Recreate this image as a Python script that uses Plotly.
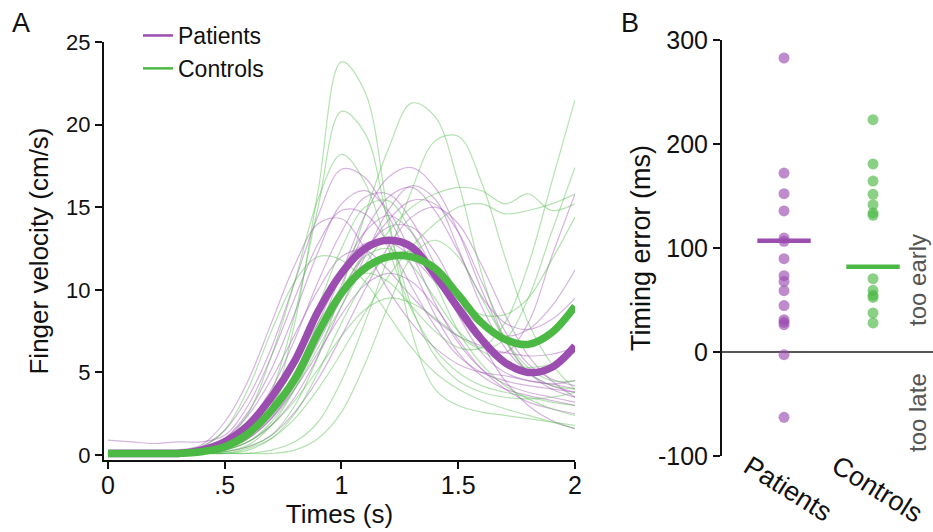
import plotly.graph_objects as go

# ---- Panel A data: finger velocity (cm/s) sampled every 0.1 s ----
TIME = [0.0, 0.1, 0.2, 0.3, 0.4, 0.5, 0.6, 0.7, 0.8, 0.9, 1.0,
        1.1, 1.2, 1.3, 1.4, 1.5, 1.6, 1.7, 1.8, 1.9, 2.0]

PATIENTS_MEAN = [0.1, 0.1, 0.1, 0.1, 0.3, 0.8, 1.8, 3.5, 5.7, 8.7, 11.0,
                 12.5, 13.0, 12.6, 10.9, 8.9, 7.0, 5.6, 5.0, 5.3, 6.6]
CONTROLS_MEAN = [0.1, 0.1, 0.1, 0.1, 0.2, 0.5, 1.3, 2.7, 4.6, 7.4, 9.8,
                 11.3, 12.0, 12.0, 11.3, 9.7, 8.0, 7.0, 6.7, 7.4, 9.0]

PATIENTS_TRIALS = [
    [0.1, 0.1, 0.1, 0.2, 0.5, 1.5, 3.5, 6.5, 10.5, 14.5, 17.3, 16.8, 14.5, 11.5, 8.5, 6.2, 4.8, 4.0, 3.6, 3.3, 3.0],
    [0.1, 0.1, 0.1, 0.1, 0.2, 0.5, 1.2, 2.5, 4.5, 7.5, 11.0, 14.5, 16.8, 17.4, 16.2, 13.5, 10.0, 7.0, 5.0, 4.0, 3.5],
    [0.9, 0.8, 0.7, 0.8, 0.8, 1.2, 3.0, 6.0, 9.5, 12.8, 14.8, 14.6, 12.8, 10.2, 7.8, 6.0, 5.0, 4.5, 4.2, 4.0, 3.8],
    [0.3, 0.3, 0.3, 0.3, 0.4, 0.8, 2.0, 4.0, 7.0, 10.5, 13.5, 15.6, 15.8, 14.2, 11.5, 8.5, 6.2, 5.0, 4.5, 4.3, 4.0],
    [0.2, 0.2, 0.2, 0.2, 0.3, 0.6, 1.3, 2.8, 5.0, 8.0, 11.0, 13.5, 14.5, 13.5, 11.0, 8.5, 6.8, 6.2, 8.0, 12.0, 15.8],
    [0.1, 0.1, 0.1, 0.1, 0.1, 0.3, 0.8, 1.8, 3.5, 6.0, 9.0, 12.0, 14.8, 16.3, 15.5, 12.5, 9.0, 6.5, 5.0, 4.2, 3.8],
    [0.2, 0.2, 0.2, 0.3, 0.6, 2.0, 4.5, 8.0, 11.5, 14.0, 14.3, 12.5, 10.0, 8.0, 6.5, 5.5, 5.0, 4.8, 4.5, 4.3, 4.5],
    [0.1, 0.1, 0.1, 0.1, 0.2, 0.4, 1.0, 2.2, 4.2, 6.8, 9.5, 12.2, 14.2, 15.4, 15.2, 13.5, 10.5, 7.5, 5.5, 4.6, 4.2],
    [0.1, 0.1, 0.1, 0.1, 0.2, 0.6, 1.6, 3.5, 6.0, 8.8, 11.3, 12.8, 12.9, 12.0, 10.5, 9.0, 7.8, 7.2, 7.6, 9.0, 11.2],
    [0.1, 0.1, 0.1, 0.1, 0.2, 0.4, 1.0, 2.2, 4.0, 6.2, 8.5, 10.3, 11.0, 10.5, 9.0, 7.0, 5.2, 4.0, 3.2, 2.8, 2.5],
    [0.1, 0.1, 0.1, 0.1, 0.3, 1.0, 2.6, 5.2, 8.6, 12.3, 15.2, 16.0, 14.8, 12.2, 9.2, 6.8, 5.2, 4.3, 3.8, 3.5, 3.2],
    [0.1, 0.1, 0.1, 0.1, 0.1, 0.2, 0.5, 1.2, 2.6, 4.6, 7.2, 10.0, 12.6, 14.4, 15.0, 14.0, 11.5, 8.5, 6.0, 4.5, 3.5],
    [0.2, 0.2, 0.2, 0.2, 0.4, 1.0, 2.4, 4.6, 7.3, 10.0, 12.0, 12.4, 11.2, 9.6, 8.2, 7.2, 6.6, 6.2, 6.0, 6.1, 6.5],
    [0.1, 0.1, 0.1, 0.1, 0.2, 0.5, 1.2, 2.5, 4.5, 7.0, 9.8, 12.3, 13.8, 13.8, 12.3, 9.6, 6.8, 4.5, 3.0, 2.1, 1.6],
    [0.1, 0.1, 0.1, 0.1, 0.2, 0.5, 1.1, 2.3, 4.3, 7.0, 10.3, 13.5, 15.6, 16.2, 14.8, 12.3, 9.6, 8.0, 7.6, 8.2, 9.5],
]

CONTROLS_TRIALS = [
    [0.1, 0.1, 0.1, 0.1, 0.1, 0.3, 1.0, 3.0, 8.0, 16.0, 23.8, 22.0, 14.5, 7.5, 4.0, 3.0, 2.6, 2.4, 2.2, 2.0, 1.8],
    [0.1, 0.1, 0.1, 0.1, 0.1, 0.3, 1.2, 3.8, 8.5, 15.0, 20.8, 19.5, 14.0, 9.0, 6.0, 4.5, 3.8, 3.5, 3.4, 3.5, 3.8],
    [0.1, 0.1, 0.1, 0.1, 0.2, 0.8, 2.5, 6.0, 10.5, 15.5, 18.2, 16.5, 12.5, 8.8, 6.4, 5.0, 4.2, 3.8, 3.5, 3.2, 3.0],
    [0.1, 0.1, 0.1, 0.1, 0.1, 0.2, 0.5, 1.2, 3.0, 6.0, 10.0, 14.5, 18.5, 21.3, 20.5, 16.5, 11.0, 7.0, 5.0, 4.2, 4.0],
    [0.1, 0.1, 0.1, 0.1, 0.1, 0.1, 0.1, 0.3, 0.8, 2.0, 4.5, 8.0, 12.0, 16.0, 19.0, 19.3, 16.5, 12.0, 8.0, 5.5, 4.0],
    [0.1, 0.1, 0.1, 0.1, 0.1, 0.3, 0.8, 2.0, 4.0, 6.5, 9.0, 11.5, 13.5, 15.0, 15.8, 16.2, 16.0, 15.2, 15.8, 14.8, 15.2],
    [0.1, 0.1, 0.1, 0.1, 0.1, 0.1, 0.4, 1.0, 2.2, 4.0, 6.2, 8.6, 10.8, 12.6, 14.0, 15.0, 15.2, 14.6, 14.8, 15.2, 15.8],
    [0.1, 0.1, 0.1, 0.1, 0.1, 0.4, 1.2, 3.0, 5.5, 8.0, 10.0, 11.0, 10.5, 9.0, 7.5, 6.5, 6.5, 8.0, 11.5, 16.5, 21.5],
    [0.1, 0.1, 0.1, 0.1, 0.1, 0.2, 0.6, 1.8, 4.0, 7.0, 10.0, 12.0, 12.5, 11.5, 9.5, 7.5, 6.5, 7.0, 9.5, 13.5, 17.4],
    [0.1, 0.1, 0.1, 0.1, 0.1, 0.1, 0.3, 1.0, 2.5, 5.0, 8.0, 10.5, 12.0, 12.3, 11.2, 9.5, 8.5, 8.5, 9.5, 11.8, 14.4],
    [0.1, 0.1, 0.1, 0.2, 0.5, 1.5, 4.0, 7.5, 10.5, 12.0, 11.8, 10.5, 8.5, 6.5, 5.0, 4.0, 3.3, 2.8, 2.4, 2.0, 1.6],
    [0.1, 0.1, 0.1, 0.1, 0.1, 0.1, 0.1, 0.1, 0.3, 1.0, 2.6, 5.5, 9.0, 12.0, 13.0, 12.0, 9.5, 7.0, 5.3, 4.5, 4.5],
    [0.1, 0.1, 0.1, 0.1, 0.1, 0.3, 0.8, 1.8, 3.3, 5.2, 7.2, 8.8, 9.5, 9.2, 8.3, 7.2, 6.3, 5.6, 5.3, 5.5, 6.2],
    [0.1, 0.1, 0.1, 0.1, 0.1, 0.4, 1.3, 3.0, 5.5, 9.0, 12.5, 15.0, 15.4, 13.5, 10.5, 7.5, 5.5, 4.2, 3.4, 2.8, 2.4],
]

TIME_TICKS = [0, 0.5, 1, 1.5, 2]
TIME_TICK_TEXT = ["0", ".5", "1", "1.5", "2"]
VEL_TICKS = [0, 5, 10, 15, 20, 25]

# ---- Panel B data: timing error (ms) ----
GROUPS = ["Patients", "Controls"]
PATIENTS_ERR = [282.7, 172.1, 152.2, 135.6, 109.6, 106.4, 89.7, 73.4, 67.9,
                59.0, 44.6, 31.1, 28.5, 26.3, -2.6, -62.8]
CONTROLS_ERR = [223.4, 180.8, 164.4, 151.6, 141.7, 133.7, 131.5, 70.5, 59.3,
                54.5, 52.5, 37.5, 27.9]
GROUP_BARS = [107, 82]
ERR_TICKS = [-100, 0, 100, 200, 300]
ERR_TICK_TEXT = ["-100", "0", "100", "200", "300"]

PURPLE = "#9B4DB0"
GREEN = "#4CB944"
PURPLE_THIN = "rgba(155,77,176,0.42)"
GREEN_THIN = "rgba(76,185,68,0.42)"
FONT = "Arial, Liberation Sans, sans-serif"

W, H = 933, 532

fig = go.Figure()

# thin individual traces
for tr in PATIENTS_TRIALS:
    fig.add_trace(go.Scatter(x=TIME, y=tr, mode="lines", line=dict(color=PURPLE_THIN, width=1.2, shape="spline"),
                             showlegend=False, hoverinfo="skip", xaxis="x", yaxis="y"))
for tr in CONTROLS_TRIALS:
    fig.add_trace(go.Scatter(x=TIME, y=tr, mode="lines", line=dict(color=GREEN_THIN, width=1.2, shape="spline"),
                             showlegend=False, hoverinfo="skip", xaxis="x", yaxis="y"))

# group means
fig.add_trace(go.Scatter(x=TIME, y=PATIENTS_MEAN, mode="lines", line=dict(color=PURPLE, width=7.5, shape="spline"),
                         showlegend=False, xaxis="x", yaxis="y"))
fig.add_trace(go.Scatter(x=TIME, y=CONTROLS_MEAN, mode="lines", line=dict(color=GREEN, width=7.5, shape="spline"),
                         showlegend=False, xaxis="x", yaxis="y"))

# legend entries
fig.add_trace(go.Scatter(x=[None], y=[None], mode="lines", name="Patients",
                         line=dict(color=PURPLE, width=2.5), xaxis="x", yaxis="y"))
fig.add_trace(go.Scatter(x=[None], y=[None], mode="lines", name="Controls",
                         line=dict(color=GREEN, width=2.5), xaxis="x", yaxis="y"))

# panel B dots
fig.add_trace(go.Scatter(x=[GROUPS[0]] * len(PATIENTS_ERR), y=PATIENTS_ERR, mode="markers",
                         marker=dict(color=PURPLE, size=11, opacity=0.65, line=dict(width=0)),
                         showlegend=False, xaxis="x2", yaxis="y2"))
fig.add_trace(go.Scatter(x=[GROUPS[1]] * len(CONTROLS_ERR), y=CONTROLS_ERR, mode="markers",
                         marker=dict(color=GREEN, size=11, opacity=0.65, line=dict(width=0)),
                         showlegend=False, xaxis="x2", yaxis="y2"))

# group bars
for i, (val, col) in enumerate(zip(GROUP_BARS, [PURPLE, GREEN])):
    fig.add_shape(type="line", xref="x2", yref="y2", x0=i - 0.3, x1=i + 0.3, y0=val, y1=val,
                  line=dict(color=col, width=4.5))

# category labels, rotated
for i, g in enumerate(GROUPS):
    fig.add_annotation(x=i, y=1 - 489 / H, xref="x2", yref="paper", text=g, showarrow=False,
                       textangle=32, xanchor="center", yanchor="middle", xshift=4,
                       font=dict(size=27, color="#111", family=FONT))

fig.add_annotation(x=917 / W, y=1 - 280 / H, xref="paper", yref="paper", text="too early",
                   showarrow=False, textangle=-90, xanchor="center", yanchor="middle",
                   font=dict(size=24, color="#555", family=FONT))
fig.add_annotation(x=917 / W, y=1 - 413 / H, xref="paper", yref="paper", text="too late",
                   showarrow=False, textangle=-90, xanchor="center", yanchor="middle",
                   font=dict(size=24, color="#555", family=FONT))

# panel letters
fig.add_annotation(x=10 / W, y=1 - 6 / H, xref="paper", yref="paper", text="A", showarrow=False,
                   xanchor="left", yanchor="top", font=dict(size=27, color="#111", family=FONT))
fig.add_annotation(x=619 / W, y=1 - 6 / H, xref="paper", yref="paper", text="B", showarrow=False,
                   xanchor="left", yanchor="top", font=dict(size=27, color="#111", family=FONT))

axis_common = dict(showline=True, linecolor="#111", linewidth=2, ticks="outside", ticklen=7,
                   tickwidth=2, tickcolor="#111", showgrid=False, zeroline=False, automargin=False)

fig.update_layout(
    width=W, height=H,
    margin=dict(l=0, r=0, t=0, b=0),
    paper_bgcolor="white", plot_bgcolor="white",
    font=dict(family=FONT, color="#111"),
    xaxis=dict(domain=[104 / W, 575 / W], range=[-0.017, 2.0], tickvals=TIME_TICKS, ticktext=TIME_TICK_TEXT,
               tickfont=dict(size=25, color="#111", family=FONT), ticklabelstandoff=-5,
               title=dict(text="Times (s)", font=dict(size=26, family=FONT), standoff=0),
               anchor="y", **axis_common),
    yaxis=dict(domain=[1 - 460 / H, 1 - 42 / H], range=[-0.3, 25], tickvals=VEL_TICKS,
               tickfont=dict(size=22, color="#111", family=FONT),
               title=dict(text="Finger velocity (cm/s)", font=dict(size=26, family=FONT), standoff=10),
               anchor="x", **axis_common),
    xaxis2=dict(domain=[722 / W, 1.0], range=[-0.697, 1.674], type="category", categoryorder="array",
                categoryarray=GROUPS, showline=False, showticklabels=False, ticks="", showgrid=False,
                zeroline=False, anchor="y2"),
    yaxis2=dict(domain=[1 - 456 / H, 1 - 40 / H], range=[-100, 300], tickvals=ERR_TICKS, ticktext=ERR_TICK_TEXT,
                tickfont=dict(size=25, color="#111", family=FONT),
                title=dict(text="Timing error (ms)", font=dict(size=27, family=FONT), standoff=0),
                anchor="x2", **{**axis_common, "zeroline": True}, zerolinecolor="#555", zerolinewidth=2),
    legend=dict(x=138 / W, y=1 - 14 / H, xanchor="left", yanchor="top", bgcolor="rgba(0,0,0,0)",
                font=dict(size=23, color="#111", family=FONT), itemwidth=30, tracegroupgap=0),
)

fig.write_html("out.html", config={"displayModeBar": False},
               post_script="document.body.style.margin='0';")
